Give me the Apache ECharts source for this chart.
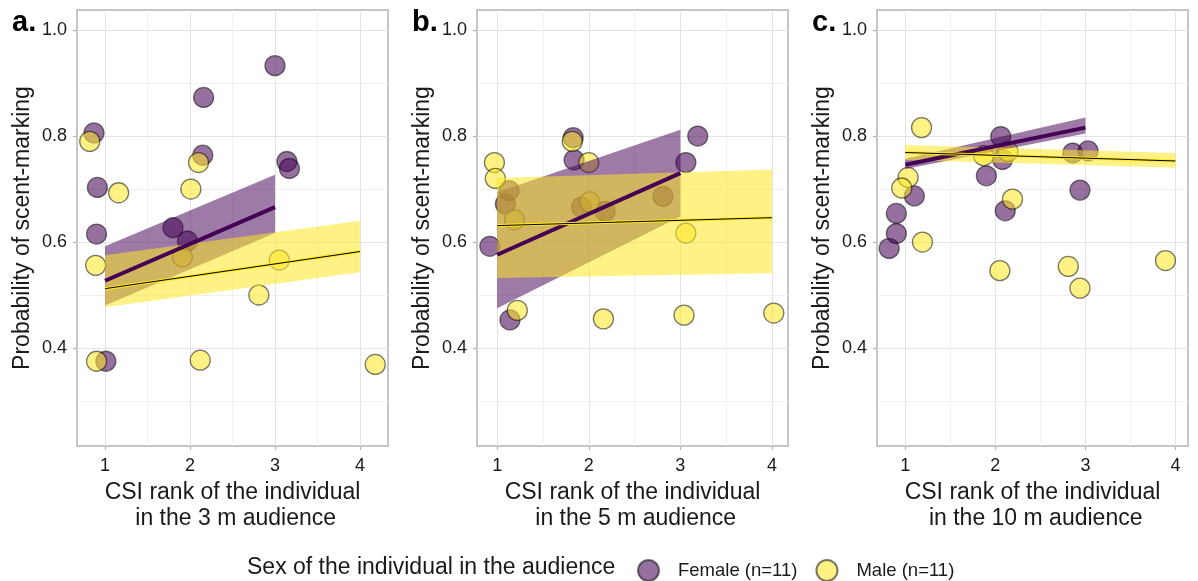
<!DOCTYPE html>
<html>
<head>
<meta charset="utf-8">
<script src="https://cdn.jsdelivr.net/npm/echarts@6/dist/echarts.min.js"></script>
<style>
  html, body { margin: 0; padding: 0; background: #fff; }
  #chart { width: 1198px; height: 581px; }
</style>
</head>
<body>
<div id="chart"></div>
<script>
// tick labels
const xTicks = [1, 2, 3, 4]
const yTicks = [0.4, 0.6, 0.8, 1.0]
const panelLabels = ['a.', 'b.', 'c.']
const audience = ['3 m', '5 m', '10 m']
const sexNames = ['Female (n=11)', 'Male (n=11)']

// panel a (3 m): [CSI rank, probability]
const femaleA = [[0.87, 0.806], [0.91, 0.703], [0.90, 0.615], [1.01, 0.375], [1.80, 0.627], [1.97, 0.602],
  [2.16, 0.873], [2.15, 0.764], [3.00, 0.933], [3.14, 0.752], [3.17, 0.739]]
const maleA = [[0.82, 0.790], [0.89, 0.556], [1.16, 0.693], [0.90, 0.375], [1.91, 0.572], [2.01, 0.700],
  [2.10, 0.750], [2.12, 0.377], [2.81, 0.500], [3.05, 0.566], [4.18, 0.369]]
const femaleFitA = [[1, 0.527], [3, 0.666]]
const femaleBandA = [[1, 0.480, 0.592], [3, 0.617, 0.727]] // [x, lower, upper]
const maleFitA = [[1, 0.512], [4, 0.582]]
const maleBandA = [[1, 0.477, 0.575], [4, 0.543, 0.640]]

// panel b (5 m)
const femaleB = [[0.92, 0.592], [1.09, 0.672], [1.13, 0.697], [1.14, 0.453], [1.83, 0.797], [1.84, 0.755],
  [1.92, 0.666], [2.18, 0.658], [2.81, 0.686], [3.06, 0.750], [3.19, 0.800]]
const maleB = [[0.97, 0.750], [0.98, 0.720], [1.19, 0.642], [1.22, 0.471], [1.82, 0.790], [2.00, 0.750],
  [2.01, 0.676], [2.16, 0.455], [3.06, 0.617], [3.04, 0.462], [4.02, 0.466]]
const femaleFitB = [[1, 0.576], [3, 0.730]]
const femaleBandB = [[1, 0.475, 0.694], [3, 0.648, 0.812]]
const maleFitB = [[1, 0.631], [4, 0.646]]
const maleBandB = [[1, 0.532, 0.721], [4, 0.541, 0.737]]

// panel c (10 m)
const femaleC = [[0.82, 0.588], [0.90, 0.616], [0.90, 0.654], [1.10, 0.687], [1.90, 0.725], [2.06, 0.799],
  [2.08, 0.756], [2.11, 0.659], [2.86, 0.768], [3.03, 0.772], [2.94, 0.698]]
const maleC = [[1.18, 0.816], [1.03, 0.722], [0.96, 0.702], [1.19, 0.600], [1.87, 0.763], [2.14, 0.771],
  [2.19, 0.681], [2.05, 0.546], [2.81, 0.554], [2.94, 0.513], [3.89, 0.565]]
const femaleFitC = [[1, 0.746], [3, 0.816]]
const femaleBandC = [[1, 0.738, 0.757], [3, 0.805, 0.835]]
const maleFitC = [[1, 0.769], [4, 0.753]]
const maleBandC = [[1, 0.755, 0.783], [4, 0.740, 0.768]]

const femalePts = [femaleA, femaleB, femaleC]
const malePts = [maleA, maleB, maleC]
const femaleFits = [femaleFitA, femaleFitB, femaleFitC]
const maleFits = [maleFitA, maleFitB, maleFitC]
const femaleBands = [femaleBandA, femaleBandB, femaleBandC]
const maleBands = [maleBandA, maleBandB, maleBandC]

const xRanges = [[0.67, 4.33], [0.78, 4.175], [0.685, 4.14]]
const yRange = [0.215, 1.038]

const FONT = '"Liberation Sans", Arial, Helvetica, sans-serif'
const TXT = '#1a1a1a'
const PURPLE = '#440154'
const YELLOW = '#FDE725'
const gridLeft = [77, 477, 877]

const isTick = (ticks, v) => ticks.some(t => Math.abs(t - v) < 1e-6)

// 置信区间带
function ribbon(band, fill, idx) {
  return {
    type: 'custom',
    xAxisIndex: idx,
    yAxisIndex: idx,
    z: 3,
    silent: true,
    data: band,
    renderItem(params, api) {
      if (params.dataIndex !== 0) return
      const upper = band.map(r => api.coord([r[0], r[2]]))
      const lower = band.map(r => api.coord([r[0], r[1]])).reverse()
      return {
        type: 'polygon',
        shape: { points: upper.concat(lower) },
        style: { fill: fill }
      }
    }
  }
}

function scatter(name, data, fill, idx) {
  return {
    name: name,
    type: 'scatter',
    xAxisIndex: idx,
    yAxisIndex: idx,
    z: 2,
    symbolSize: 20,
    data: data,
    itemStyle: { color: fill, borderColor: 'rgba(0,0,0,0.65)', borderWidth: 1.3 }
  }
}

function fitLine(data, color, width, idx, z) {
  return {
    type: 'line',
    xAxisIndex: idx,
    yAxisIndex: idx,
    z: z,
    silent: true,
    symbol: 'none',
    data: data,
    lineStyle: { color: color, width: width }
  }
}

const grids = []
const xAxes = []
const yAxes = []
const series = []

for (let i = 0; i < 3; i++) {
  grids.push({
    left: gridLeft[i], top: 10, width: 311, height: 436,
    show: true, borderColor: '#b3b3b3', borderWidth: 1.5, backgroundColor: '#fff'
  })
  xAxes.push({
    type: 'value', gridIndex: i,
    min: xRanges[i][0], max: xRanges[i][1], splitNumber: 4,
    name: 'CSI rank of the individual\n in the ' + audience[i] + ' audience',
    nameLocation: 'middle', nameGap: 31,
    nameTextStyle: { fontSize: 23, color: TXT, fontFamily: FONT, lineHeight: 26 },
    axisLine: { show: false },
    axisTick: { show: true, length: 4, lineStyle: { color: '#b3b3b3', width: 1.2 }, customValues: xTicks },
    axisLabel: {
      margin: 11, fontSize: 18, color: TXT, fontFamily: FONT, customValues: xTicks,
      formatter: v => isTick(xTicks, v) ? String(v) : ''
    },
    splitLine: { show: true, lineStyle: { color: '#e3e3e3', width: 1 } },
    minorTick: { show: false, splitNumber: 2 },
    minorSplitLine: { show: true, lineStyle: { color: '#f0f0f0', width: 1 } }
  })
  yAxes.push({
    type: 'value', gridIndex: i,
    min: yRange[0], max: yRange[1], splitNumber: 4,
    name: 'Probability of scent-marking',
    nameLocation: 'middle', nameGap: 43, nameRotate: 90,
    nameTextStyle: { fontSize: 23, color: TXT, fontFamily: FONT },
    axisLine: { show: false },
    axisTick: { show: true, length: 4, lineStyle: { color: '#b3b3b3', width: 1.2 }, customValues: yTicks },
    axisLabel: {
      margin: 10, fontSize: 18, color: TXT, fontFamily: FONT, customValues: yTicks,
      padding: [3, 0, 0, 0],
      formatter: v => isTick(yTicks, v) ? v.toFixed(1) : ''
    },
    splitLine: { show: true, lineStyle: { color: '#e3e3e3', width: 1 } },
    minorTick: { show: false, splitNumber: 2 },
    minorSplitLine: { show: true, lineStyle: { color: '#f0f0f0', width: 1 } }
  })

  series.push(scatter(sexNames[0], femalePts[i], 'rgba(68,1,84,0.7)', i))
  series.push(scatter(sexNames[1], malePts[i], 'rgba(253,231,37,0.7)', i))
  series.push(ribbon(femaleBands[i], 'rgba(68,1,84,0.52)', i))
  series.push(ribbon(maleBands[i], 'rgba(253,231,37,0.55)', i))
  series.push(fitLine(femaleFits[i], PURPLE, 4, i, 4))
  series.push(fitLine(maleFits[i], YELLOW, 3, i, 5))
  series.push(fitLine(maleFits[i], '#000', 1, i, 6))
}

const titles = panelLabels.map((t, i) => ({
  text: t, left: gridLeft[i] - 65, top: 8, padding: 0,
  textStyle: { fontSize: 29, fontWeight: 'bold', color: '#000', fontFamily: FONT }
}))
titles.push({
  text: 'Sex of the individual in the audience', left: 247, top: 556, padding: 0,
  textStyle: { fontSize: 23, fontWeight: 'normal', color: TXT, fontFamily: FONT }
})

const chart = echarts.init(document.getElementById('chart'), null, { renderer: 'canvas' })
chart.setOption({
  animation: false,
  backgroundColor: '#fff',
  title: titles,
  legend: {
    data: sexNames,
    left: 637, top: 559, padding: 0,
    icon: 'circle', itemWidth: 21, itemHeight: 21, itemGap: 18,
    textStyle: { fontSize: 18.5, color: TXT, fontFamily: FONT, padding: [0, 0, 0, 14] }
  },
  grid: grids,
  xAxis: xAxes,
  yAxis: yAxes,
  series: series
})
</script>
</body>
</html>
